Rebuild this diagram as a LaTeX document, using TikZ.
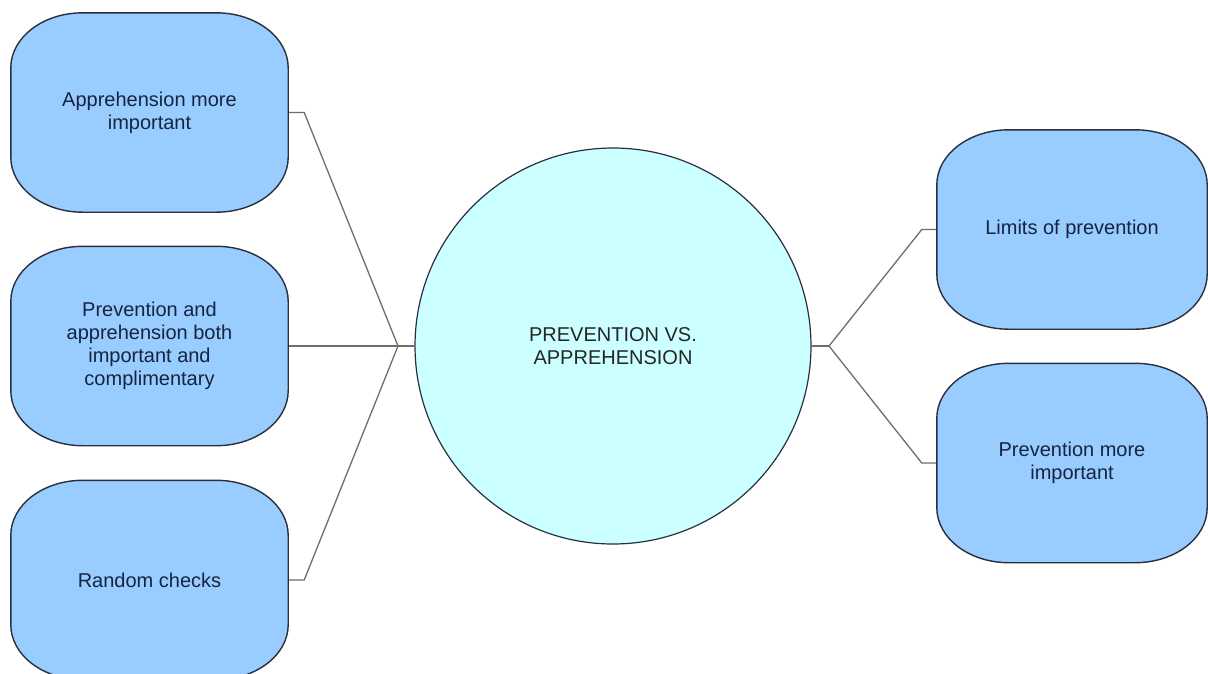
\documentclass[tikz,border=0pt]{standalone}
\usepackage{fontspec}
\setmainfont{Liberation Sans}
\usetikzlibrary{backgrounds}
\definecolor{boxfill}{RGB}{153,204,255}
\definecolor{hubfill}{RGB}{204,255,255}
\definecolor{edgeline}{RGB}{40,48,62}
\definecolor{linkgray}{RGB}{110,110,110}
\definecolor{navytext}{RGB}{22,36,64}

\tikzset{
  mapbox/.style={rectangle, draw=none, minimum width=277pt, minimum height=199pt,
    align=center, text=navytext, font=\fontsize{20pt}{23pt}\selectfont},
  capsule/.style={draw=edgeline, fill=boxfill, line width=1.4pt},
  hub/.style={circle, draw=edgeline, fill=hubfill, line width=1.2pt, minimum size=396pt,
    inner sep=0pt, align=center, text=black!85, font=\fontsize{20pt}{23pt}\selectfont},
  link/.style={draw=linkgray, line width=1.3pt},
}

% rounded box with elliptical corners drawn behind a named node
\newcommand\capsuleof[1]{%
  \begin{scope}[on background layer]
  \draw[capsule] ([xshift=72pt]#1.north west) -- ([xshift=-72pt]#1.north east)
    arc[start angle=90, end angle=0, x radius=72pt, y radius=55pt]
    -- ([yshift=55pt]#1.south east)
    arc[start angle=0, end angle=-90, x radius=72pt, y radius=55pt]
    -- ([xshift=72pt]#1.south west)
    arc[start angle=270, end angle=180, x radius=72pt, y radius=55pt]
    -- ([yshift=-55pt]#1.north west)
    arc[start angle=180, end angle=90, x radius=72pt, y radius=55pt]
    -- cycle;
  \end{scope}}

\begin{document}
\begin{tikzpicture}[x=1pt, y=-1pt]
\begin{scope}[on background layer]
\fill[white] (0,0) rectangle (1208,673);
\end{scope}
\useasboundingbox (0,0) rectangle (1208,673);

% junction points of the connectors
\coordinate (jl) at (398,346);
\coordinate (jr) at (829,346);

% centre topic
\node[hub] (hub) at (613,346) {PREVENTION VS.\\APPREHENSION};

% left branches
\node[mapbox] (l1) at (149.5,112.5) {Apprehension more\\important};
\node[mapbox] (l2) at (149.5,346) {Prevention and\\apprehension both\\important and\\complimentary};
\node[mapbox] (l3) at (149.5,580) {Random checks};

% right branches
\node[mapbox, minimum width=270pt] (r1) at (1072,229.5) {Limits of prevention};
\node[mapbox, minimum width=270pt] (r2) at (1072,463) {Prevention more\\important};

% connectors, under the boxes
\begin{scope}[on background layer]
\draw[link] (l1.east) -- ++(16,0) -- (jl);
\draw[link] (l3.east) -- ++(16,0) -- (jl);
\draw[link] (l2.east) -- (hub.west);
\draw[link] (r1.west) -- ++(-15,0) -- (jr);
\draw[link] (r2.west) -- ++(-15,0) -- (jr);
\draw[link] (hub.east) -- (jr);
\end{scope}

\capsuleof{l1}
\capsuleof{l2}
\capsuleof{l3}
\capsuleof{r1}
\capsuleof{r2}
\end{tikzpicture}
\end{document}
